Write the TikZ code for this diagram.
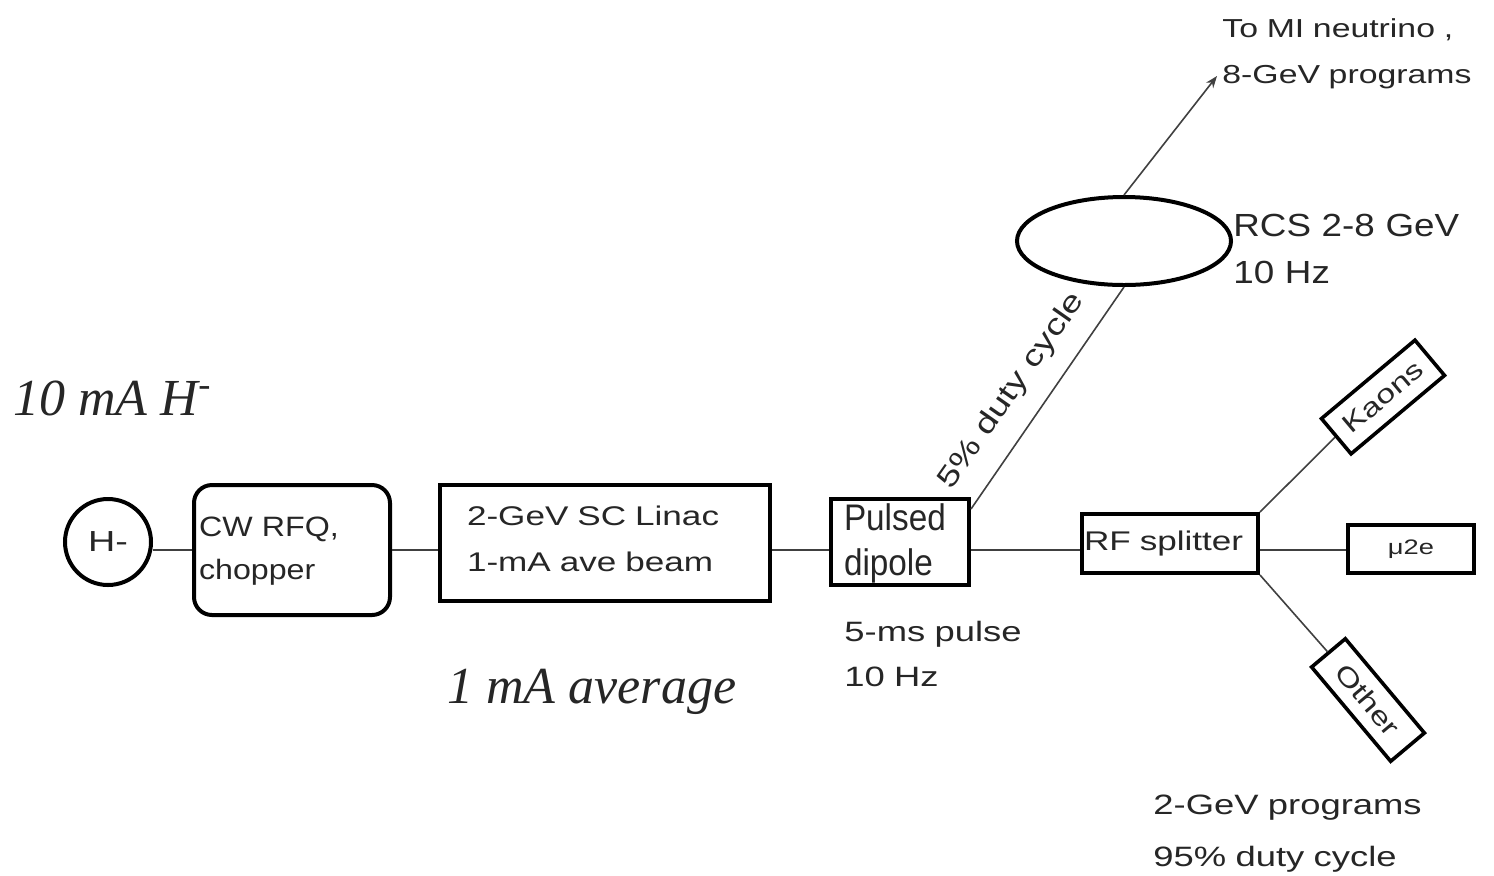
\documentclass[tikz,border=0pt]{standalone}
\usepackage{fontspec}
\newfontfamily\wsf[FakeStretch=1.3]{Liberation Sans}
\newfontfamily\msf[FakeStretch=1.15]{Liberation Sans}
\newfontfamily\nsf[FakeStretch=0.9]{Liberation Sans}
\newfontfamily\itserif{Liberation Serif}
\usetikzlibrary{shapes.geometric,arrows.meta}
\begin{document}
\begin{tikzpicture}[x=0.5pt,y=-0.5pt,
  txt/.style={text=black!85},
  box/.style={draw=black, line width=2pt, rectangle, inner ysep=0pt, text height=0pt, align=left, txt},
  smallbox/.style={draw=black, line width=1.8pt, rectangle, inner sep=0pt, align=center, txt},
  conn/.style={draw=black!75, line width=0.8pt},
  lab/.style={txt, inner sep=0pt, align=left, text height=0pt, text depth=0pt, anchor=west},
  serif/.style={txt, anchor=base west, inner sep=0pt, font=\fontsize{26}{30}\itserif\itshape}
]
\fill[white] (0,0) rectangle (1494,875);
\useasboundingbox (0,0) rectangle (1494,875);
\coordinate (beam) at (0,550);
\coordinate (mi) at (1217,76);

% beam line elements
\node[circle, draw=black, line width=2pt, minimum size=43pt, inner sep=0pt, txt,
      font=\fontsize{14.5}{17}\wsf] (hm) at (108,542) {H-};
\node[box, rounded corners=9pt, minimum width=98pt, minimum height=65pt,
      text width=93pt, inner xsep=2.5pt, text depth=14pt,
      font=\fontsize{14}{21.5}\msf] (cw) at (292,550) {CW RFQ,\\chopper};
\node[box, minimum width=165pt, minimum height=58pt,
      text width=138pt, inner xsep=13.5pt, text depth=18pt,
      font=\fontsize{13.5}{23}\wsf] (linac) at (605,543) {2-GeV SC Linac\\1-mA ave beam};
\node[box, minimum width=69pt, minimum height=43pt,
      text width=56pt, inner xsep=6.5pt, text depth=12pt,
      font=\fontsize{18.5}{22.5}\nsf] (dipole) at (900,542) {Pulsed\\dipole};
\node[box, minimum width=88pt, minimum height=29.5pt,
      text width=86pt, inner xsep=1pt, text height=6.5pt, text depth=0pt,
      font=\fontsize{13.5}{16}\wsf] (split) at (1170,543.5) {RF splitter};
\node[smallbox, line width=2pt, minimum width=63pt, minimum height=24pt,
      font=\fontsize{10.5}{12}\wsf] (mu) at (1411,549) {μ2e};
\node[smallbox, rotate=40, minimum width=61pt, minimum height=23pt,
      font=\fontsize{13}{15}\wsf] (kaons) at (1383,397) {Kaons};
\node[smallbox, rotate=-50, minimum width=61.5pt, minimum height=22pt,
      font=\fontsize{13}{15}\wsf] (other) at (1368,700) {Other};
\node[ellipse, draw=black, line width=2pt, minimum width=107pt, minimum height=44pt,
      inner sep=0pt] (rcs) at (1124,241) {};

% connectors
\draw[conn] (hm.east |- beam) -- (cw.west |- beam);
\draw[conn] (cw.east |- beam) -- (linac.west |- beam);
\draw[conn] (linac.east |- beam) -- (dipole.west |- beam);
\draw[conn] (dipole.east |- beam) -- (split.west |- beam);
\draw[conn] (split.east |- beam) -- (mu.west |- beam);
\draw[conn] (split.north east) -- (kaons.west);
\draw[conn] (split.south east) -- (other.west);
\draw[conn] ([yshift=-6pt]dipole.north east) -- (rcs.south);
\draw[conn, -{Stealth[length=6pt,width=4.5pt]}] (rcs.north) -- (mi);

% labels
\node[lab, text width=140pt, font=\fontsize{13}{23}\wsf] (tomi) at (1222,37)
  {To MI neutrino ,\\8-GeV programs};
\node[lab, text width=125pt, font=\fontsize{16}{23.5}\msf] (rcslab) at (1233,236)
  {RCS 2-8 GeV\\10 Hz};
\node[lab, text width=100pt, font=\fontsize{14}{22.5}\wsf] (pulse) at (844,641)
  {5-ms pulse\\10 Hz};
\node[lab, text width=150pt, font=\fontsize{14}{26}\wsf] (prog) at (1153,814)
  {2-GeV programs\\95\% duty cycle};
\node[txt, rotate=55, inner sep=0pt, font=\fontsize{14.5}{17}\wsf] (duty) at (1012,391)
  {5\% duty cycle};
\node[serif] (hlab) at (13,415) {10 mA H\textsuperscript{-}};
\node[serif] (avg) at (447,703) {1 mA average};
\end{tikzpicture}
\end{document}
